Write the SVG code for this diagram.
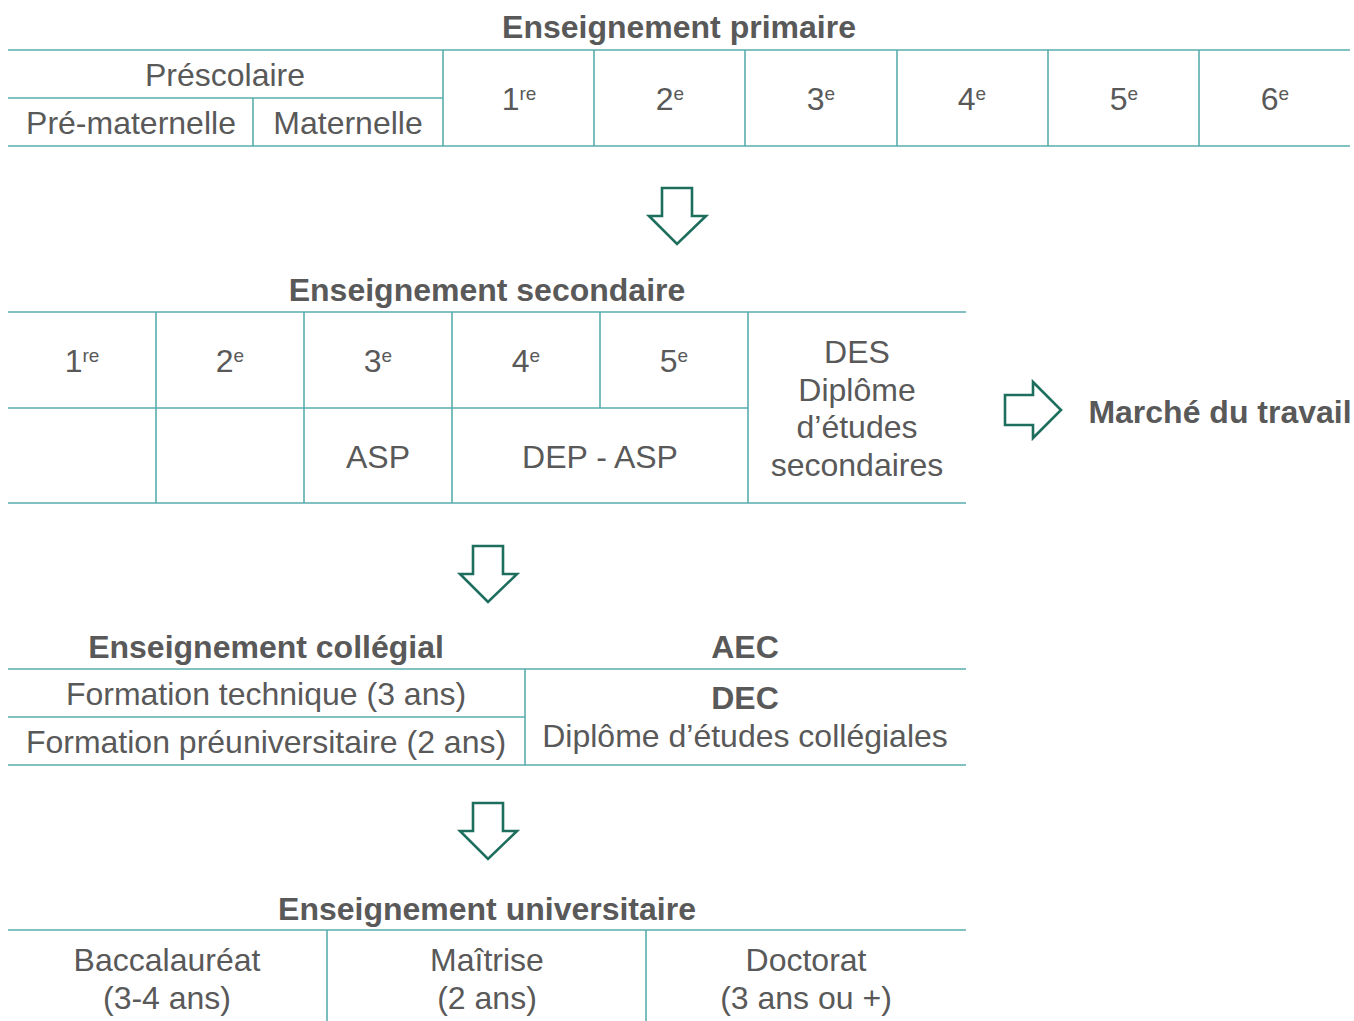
<svg xmlns="http://www.w3.org/2000/svg" width="1354" height="1021" viewBox="0 0 1354 1021">
<style>
.t{font-family:"Liberation Sans",Arial,sans-serif;font-size:32px;fill:#595959;text-anchor:middle}
.b{font-weight:bold}
.s{font-size:19px}
.ln{stroke:#5aadad;stroke-width:1.6;fill:none}
.ar{stroke:#1e6e5e;stroke-width:2.6;fill:#fff;stroke-linejoin:miter}
</style>
<rect width="1354" height="1021" fill="#fff"/>
<g id="primaire">
<text class="t b" x="679" y="38">Enseignement primaire</text>
<path class="ln" d="M8 50H1350M8 98H443M8 146H1350M253 98V146M443 50V146M594 50V146M745 50V146M897 50V146M1048 50V146M1199 50V146"/>
<text class="t" x="225" y="86">Préscolaire</text>
<text class="t" x="131" y="134">Pré-maternelle</text>
<text class="t" x="348" y="134">Maternelle</text>
<text class="t" x="519" y="110">1<tspan class="s" dy="-10">re</tspan></text>
<text class="t" x="670" y="110">2<tspan class="s" dy="-10">e</tspan></text>
<text class="t" x="821" y="110">3<tspan class="s" dy="-10">e</tspan></text>
<text class="t" x="972" y="110">4<tspan class="s" dy="-10">e</tspan></text>
<text class="t" x="1124" y="110">5<tspan class="s" dy="-10">e</tspan></text>
<text class="t" x="1275" y="110">6<tspan class="s" dy="-10">e</tspan></text>
</g>
<g id="secondaire">
<text class="t b" x="487" y="301">Enseignement secondaire</text>
<path class="ln" d="M8 312H966M8 408H748M8 503H966M156 312V503M304 312V503M452 312V503M600 312V408M748 312V503"/>
<text class="t" x="82" y="372">1<tspan class="s" dy="-10">re</tspan></text>
<text class="t" x="230" y="372">2<tspan class="s" dy="-10">e</tspan></text>
<text class="t" x="378" y="372">3<tspan class="s" dy="-10">e</tspan></text>
<text class="t" x="526" y="372">4<tspan class="s" dy="-10">e</tspan></text>
<text class="t" x="674" y="372">5<tspan class="s" dy="-10">e</tspan></text>
<text class="t" x="378" y="468">ASP</text>
<text class="t" x="600" y="468">DEP - ASP</text>
<text class="t" x="857" y="363">DES</text>
<text class="t" x="857" y="401">Diplôme</text>
<text class="t" x="857" y="438">d’études</text>
<text class="t" x="857" y="476">secondaires</text>
</g>
<g id="marche">
<text class="t b" x="1220" y="423">Marché du travail</text>
</g>
<g id="collegial">
<text class="t b" x="266" y="658">Enseignement collégial</text>
<text class="t b" x="745" y="658">AEC</text>
<path class="ln" d="M8 669H966M8 717H525M8 765H966M525 669V765"/>
<text class="t" x="266" y="705">Formation technique (3 ans)</text>
<text class="t" x="266" y="753">Formation préuniversitaire (2 ans)</text>
<text class="t b" x="745" y="709">DEC</text>
<text class="t" x="745" y="747">Diplôme d’études collégiales</text>
</g>
<g id="universitaire">
<text class="t b" x="487" y="920">Enseignement universitaire</text>
<path class="ln" d="M8 930H966M327 930V1021M646 930V1021"/>
<text class="t" x="167" y="971">Baccalauréat</text>
<text class="t" x="167" y="1009">(3-4 ans)</text>
<text class="t" x="487" y="971">Maîtrise</text>
<text class="t" x="487" y="1009">(2 ans)</text>
<text class="t" x="806" y="971">Doctorat</text>
<text class="t" x="806" y="1009">(3 ans ou +)</text>
</g>
<g id="connectors">
<path class="ar" d="M662 188H692V216H706L677 244L649 216H662Z"/>
<path class="ar" d="M1005 395H1033V382L1061 410L1033 438V425H1005Z"/>
<path class="ar" d="M473 546H503V574H517L488 602L460 574H473Z"/>
<path class="ar" d="M473 803H503V831H517L488 859L460 831H473Z"/>
</g>
</svg>
